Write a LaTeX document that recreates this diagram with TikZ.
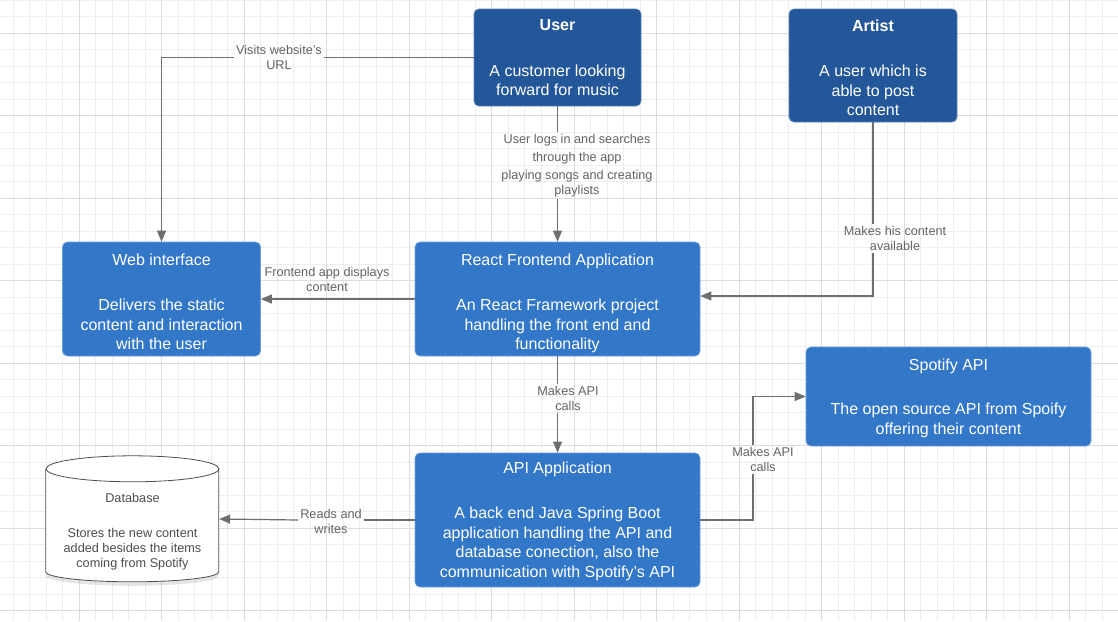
\documentclass[tikz,border=0pt]{standalone}
\usepackage{fontspec}
\setmainfont{Liberation Sans}
\usetikzlibrary{arrows.meta,shadows}
\definecolor{boxdark}{HTML}{23579A}
\definecolor{boxlight}{HTML}{3277C8}
\definecolor{linegray}{HTML}{6E6E6E}
\definecolor{labelgray}{HTML}{646464}
\definecolor{dbgray}{HTML}{4D4D4D}
\definecolor{gridminor}{HTML}{EEEEEE}
\definecolor{gridmajor}{HTML}{DCDCDC}

\begin{document}
\begin{tikzpicture}[x=1pt, y=-1pt,
        box/.style={rounded corners=5pt, fill=boxlight, draw=boxlight!70!white, line width=0.7pt, inner sep=0pt},
        userbox/.style={box, fill=boxdark, draw=boxdark!75!white},
        boxtext/.style={text=white, align=center, font=\fontsize{16}{19.5}\selectfont, inner sep=0pt,
            execute at begin node={\rule[-3.5pt]{0pt}{23pt}}, execute at end node={\rule[-3.5pt]{0pt}{18pt}}},
        lbl/.style={text=labelgray, align=center, font=\fontsize{12.7}{15}\selectfont, inner sep=2pt},
        dbtext/.style={lbl, text=dbgray, inner sep=0pt,
            execute at begin node={\rule[-3pt]{0pt}{18.8pt}}, execute at end node={\rule[-3pt]{0pt}{14.8pt}}},
        conn/.style={draw=linegray, line width=1.2pt},
        arr/.style={conn, -{Triangle[length=11pt,width=9pt]}}]
        \useasboundingbox (0,0) rectangle (1118,621);
        \fill[white] (0,0) rectangle (1118,621);

        % Grid
        \foreach \gx in {13,29.5,...,1118} \draw[gridminor, line width=0.9pt] (\gx,0) -- (\gx,621);
        \foreach \gy in {0,16.5,...,621} \draw[gridminor, line width=0.9pt] (0,\gy) -- (1118,\gy);
        \foreach \gx in {79,161.5,...,1118} \draw[gridmajor, line width=0.9pt] (\gx,0) -- (\gx,621);
        \foreach \gy in {33,115.5,...,621} \draw[gridmajor, line width=0.9pt] (0,\gy) -- (1118,\gy);

        % Users
        \node[userbox, minimum width=167pt, minimum height=97pt] (user) at (557.5,57.5) {};
        \node[boxtext] (usertext) at (557.5,59.5) {\textbf{User}\\[26pt]A customer looking\\forward for music};
        \node[userbox, minimum width=168pt, minimum height=113pt] (artist) at (873,65.5) {};
        \node[boxtext] (artisttext) at (873,69.5) {\textbf{Artist}\\[26pt]A user which is\\able to post\\content};

        % Frontend
        \node[box, minimum width=198pt, minimum height=114pt] (web) at (161.5,299) {};
        \node[boxtext] (webtext) at (161.5,303.5) {Web interface\\[26pt]Delivers the static\\content and interaction\\with the user};
        \node[box, minimum width=285pt, minimum height=114pt] (react) at (557.5,299) {};
        \node[boxtext] (reacttext) at (557.5,303.5) {React Frontend Application\\[26pt]An React Framework project\\handling the front end and\\functionality};

        % Backend
        \node[box, minimum width=285pt, minimum height=99pt] (spotify) at (948.5,396.5) {};
        \node[boxtext] (spotifytext) at (948.5,398) {Spotify API\\[25pt]The open source API from Spoify\\offering their content};
        \node[box, minimum width=285pt, minimum height=134pt] (api) at (557.5,520) {};
        \node[boxtext] (apitext) at (557.5,521) {API Application\\[26pt]A back end Java Spring Boot\\application handling the API and\\database conection, also the\\communication with Spotify's API};

        % Database
        \node[minimum width=173pt, minimum height=126pt, inner sep=0pt] (db) at (132.5,519) {};
        \fill[white, drop shadow={shadow xshift=0pt, shadow yshift=-4pt, opacity=0.2}]
            (db.north west) ++(0,13) -- ++(0,103) arc[start angle=180, end angle=360, x radius=86.5pt, y radius=10pt]
            -- ++(0,-103) arc[start angle=0, end angle=180, x radius=86.5pt, y radius=13pt] -- cycle;
        \draw[dbgray, line width=0.8pt] (db.north west) ++(0,13) -- ++(0,103)
            arc[start angle=180, end angle=360, x radius=86.5pt, y radius=10pt] -- ++(0,-103);
        \draw[dbgray, line width=0.8pt] (db.north) ++(0,13) ellipse[x radius=86.5pt, y radius=13pt];
        \node[dbtext] (dbinfo) at (132.5,532)
            {Database\\[20pt]Stores the new content\\added besides the items\\coming from Spotify};

        % Labels
        \node[lbl] (visits) at (279,57.5) {Visits website's\\URL};
        \node[lbl] (logs) at (577,165.5) {User logs in and searches\\[3pt]through the app\\[3pt]playing songs and creating\\playlists};
        \node[lbl] (shows) at (327,279.5) {Frontend app displays\\content};
        \node[lbl] (posts) at (895,238.5) {Makes his content\\available};
        \node[lbl] (callsA) at (568,398.5) {Makes API\\calls};
        \node[lbl] (callsB) at (763,459.5) {Makes API\\calls};
        \node[lbl] (rw) at (331,521) {Reads and\\writes};
        \coordinate (turn) at (753,0);

        % Connectors
        \draw[conn] (user.west) -- (user.west -| visits.east);
        \draw[arr] (user.west -| visits.west) -| (web.north);
        \draw[conn] (user.south) -- (user.south |- logs.north);
        \draw[arr] (user.south |- logs.south) -- (react.north);
        \draw[conn] (artist.south) -- (artist.south |- posts.north);
        \draw[arr] (artist.south |- posts.south) |- ([yshift=3pt]react.east);
        \draw[arr] (react.west) -- (web.east);
        \draw[conn] (react.south) -- (react.south |- callsA.north);
        \draw[arr] (react.south |- callsA.south) -- (api.north);
        \draw[conn] (api.east) -| (turn |- callsB.south);
        \draw[arr] (turn |- callsB.north) |- (spotify.west);
        \draw[conn] (api.west) -- (api.west -| rw.east);
        \draw[arr] (api.west -| rw.west) -- (db.east);
\end{tikzpicture}
\end{document}
